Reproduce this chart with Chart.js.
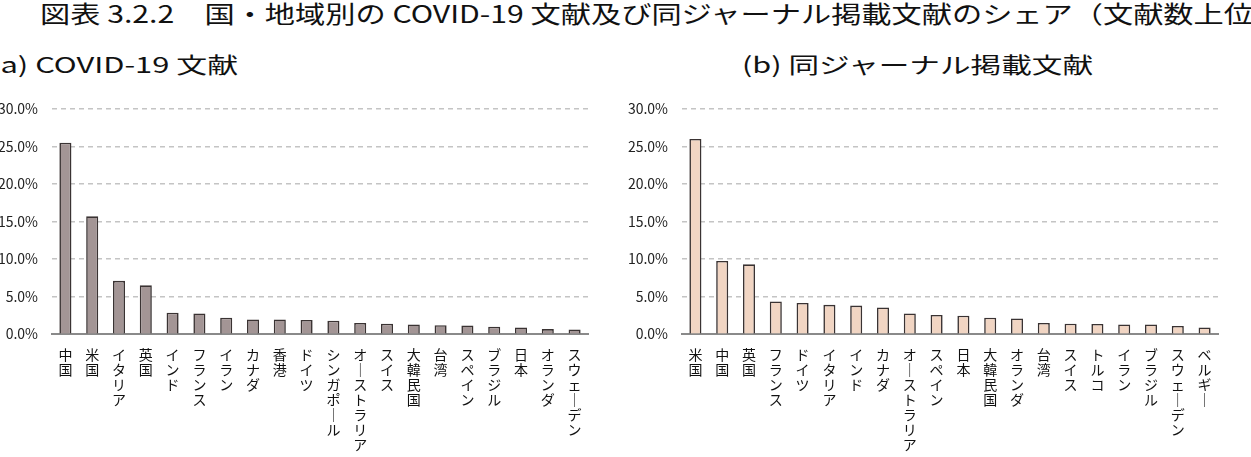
<!DOCTYPE html>
<html lang="ja">
<head>
<meta charset="utf-8">
<script src="https://cdn.jsdelivr.net/npm/chart.js@4.4.1/dist/chart.umd.min.js"></script>
<style>
  html, body { margin: 0; padding: 0; background: #fff; }
  body { width: 1251px; height: 457px; position: relative; overflow: hidden;
         font-family: "Noto Sans CJK JP", sans-serif; color: #111; }
  .fit { position: absolute; white-space: nowrap; transform-origin: 0 50%; }
  #title { left: 40px; top: -1px; font-size: 24px; line-height: 27px; }
  #subA { left: -10px; top: 50px; font-size: 22px; line-height: 27px; }
  #subB { left: 742px; top: 50px; font-size: 22px; line-height: 27px; }
  .box { position: absolute; top: 80px; height: 377px; }
  #boxA { left: 0; width: 610px; }
  #boxB { left: 620px; width: 631px; }
</style>
</head>
<body>
<span id="title" class="fit" data-w="1214">図表 3.2.2　国・地域別の COVID-19 文献及び同ジャーナル掲載文献のシェア（文献数上位</span>
<span id="subA" class="fit" data-w="248">(a) COVID-19 文献</span>
<span id="subB" class="fit" data-w="351">(b) 同ジャーナル掲載文献</span>
<div id="boxA" class="box"><canvas id="chartA"></canvas></div>
<div id="boxB" class="box"><canvas id="chartB"></canvas></div>
<script>
// (a) COVID-19 papers, share by country/region (%)
const countriesA = ['中国', '米国', 'イタリア', '英国', 'インド', 'フランス', 'イラン', 'カナダ', '香港', 'ドイツ',
  'シンガポール', 'オーストラリア', 'スイス', '大韓民国', '台湾', 'スペイン', 'ブラジル', '日本', 'オランダ', 'スウェーデン'];
const sharesA = [25.5, 15.7, 7.1, 6.5, 2.85, 2.75, 2.2, 1.95, 1.95, 1.9,
  1.8, 1.5, 1.4, 1.3, 1.2, 1.15, 1.0, 0.9, 0.67, 0.62];

// (b) papers in the same journals (%)
const countriesB = ['米国', '中国', '英国', 'フランス', 'ドイツ', 'イタリア', 'インド', 'カナダ', 'オーストラリア', 'スペイン',
  '日本', '大韓民国', 'オランダ', '台湾', 'スイス', 'トルコ', 'イラン', 'ブラジル', 'スウェーデン', 'ベルギー'];
const sharesB = [26.0, 9.75, 9.3, 4.35, 4.15, 3.9, 3.8, 3.55, 2.75, 2.55,
  2.45, 2.2, 2.1, 1.5, 1.4, 1.35, 1.3, 1.3, 1.1, 0.9];

const yTicks = [0, 5, 10, 15, 20, 25, 30];

// stretch the heading texts to the width they take in the original figure
document.querySelectorAll('.fit').forEach((el) => {
  const w = el.getBoundingClientRect().width;
  el.style.transform = `scaleX(${el.dataset.w / w})`;
});

// vertical labels: one character per line, long vowel mark turned upright
const verticalLabel = (name) => Array.from(name).map((ch) => (ch === 'ー' ? '｜' : ch));

const makeChart = function makeBarChart(canvasId, labels, data, fill, axisWidth, padRight) {
  new Chart(document.getElementById(canvasId), {
    type: 'bar',
    data: {
      labels: labels.map(verticalLabel),
      datasets: [{
        data,
        backgroundColor: fill,
        borderColor: '#3a3333',
        borderWidth: 1.6,
        borderSkipped: 'bottom',
        barPercentage: 0.45,
        categoryPercentage: 1,
      }],
    },
    options: {
      responsive: true,
      maintainAspectRatio: false,
      animation: false,
      layout: { padding: { top: 29, right: padRight, bottom: -8, left: 0 } },
      plugins: { legend: { display: false }, tooltip: { enabled: false } },
      scales: {
        x: {
          grid: { display: false, drawTicks: false },
          border: { display: true, color: '#8a8a8a', width: 2 },
          ticks: {
            autoSkip: false,
            maxRotation: 0,
            minRotation: 0,
            padding: 13,
            color: '#111',
            font: { family: '"Noto Sans CJK JP"', size: 14, lineHeight: 1.07 },
          },
        },
        y: {
          min: 0,
          max: 30,
          afterBuildTicks: (scale) => { scale.ticks = yTicks.map((v) => ({ value: v })); },
          afterFit: (scale) => { scale.width = axisWidth; },
          border: { display: false, dash: [5, 4] },
          grid: {
            color: (ctx) => (ctx.tick.value === 0 ? 'rgba(0,0,0,0)' : '#c4c4c4'),
            lineWidth: 1.5,
            drawTicks: false,
          },
          ticks: {
            padding: 14,
            color: '#222',
            font: { family: '"Noto Sans CJK JP"', size: 14 },
            callback: (v) => `${Number(v).toFixed(1)}%`,
          },
        },
      },
    },
  });
};

makeChart('chartA', countriesA, sharesA, '#a39595', 52, 22);
makeChart('chartB', countriesB, sharesB, '#f1d5c3', 62, 33);
</script>
</body>
</html>
